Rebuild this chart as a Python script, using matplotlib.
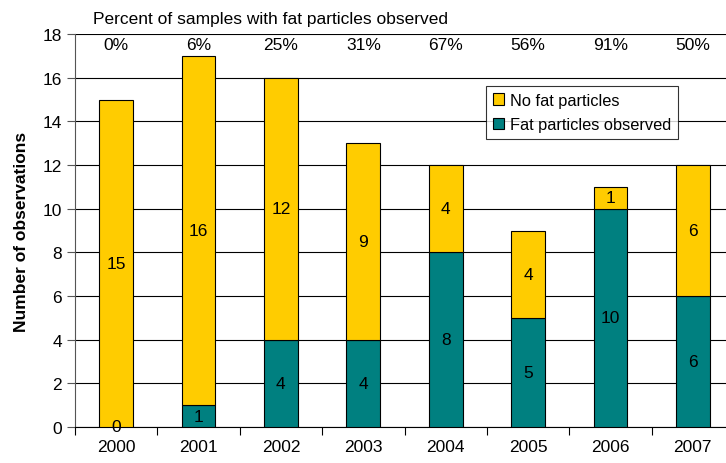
import numpy as np
import matplotlib.pyplot as plt

years = ['2000', '2001', '2002', '2003', '2004', '2005', '2006', '2007']
fat_observed = [0, 1, 4, 4, 8, 5, 10, 6]
no_fat = [15, 16, 12, 9, 4, 4, 1, 6]
percent_labels = ['0%', '6%', '25%', '31%', '67%', '56%', '91%', '50%']

plt.rcParams['font.family'] = ['Liberation Sans', 'DejaVu Sans']
fs = 12.5

fig = plt.figure(figsize=(7.26, 4.64), dpi=100)
W, H = 726, 464
left, right, top, bottom = 75, 734, 35, 428
ax = fig.add_axes([left / W, 1 - bottom / H, (right - left) / W, (bottom - top) / H])

x = np.arange(len(years))
width = 0.41
teal = '#008080'
yellow = '#FFCC00'

b1 = ax.bar(x, fat_observed, width=width, color=teal, edgecolor='black',
            linewidth=0.8, label='Fat particles observed', zorder=3)
b2 = ax.bar(x, no_fat, width=width, bottom=fat_observed, color=yellow,
            edgecolor='black', linewidth=0.8, label='No fat particles', zorder=3)

for i in range(len(years)):
    ax.text(x[i], fat_observed[i] / 2, str(fat_observed[i]), ha='center',
            va='center', fontsize=fs, zorder=4)
    ax.text(x[i], fat_observed[i] + no_fat[i] / 2, str(no_fat[i]), ha='center',
            va='center', fontsize=fs, zorder=4)
    ax.text(x[i], 17.5, percent_labels[i], ha='center', va='center',
            fontsize=fs, zorder=4)

ax.text(0.297, 1.04, 'Percent of samples with fat particles observed',
        transform=ax.transAxes, ha='center', va='center', fontsize=fs)

ax.set_xlim(-0.5, len(years) - 0.5)
ax.set_ylim(0, 18)
ax.set_yticks(np.arange(0, 19, 2))
ax.set_xticks(x)
ax.set_xticklabels(years, fontsize=fs)
ax.set_xticks(np.arange(-0.5, len(years), 1), minor=True)
ax.tick_params(axis='x', which='major', length=0, pad=9)
ax.tick_params(axis='x', which='minor', length=6, direction='out', width=0.8)
ax.tick_params(axis='y', labelsize=fs, length=6, direction='out', width=0.8, color='#555555')
ax.yaxis.grid(True, color='black', linewidth=0.8, zorder=0)

for s in ['top', 'right']:
    ax.spines[s].set_visible(False)
ax.spines['left'].set_color('#555555')
ax.spines['bottom'].set_color('black')

ax.set_ylabel('Number of observations', fontsize=fs, fontweight='bold', labelpad=10)

leg = ax.legend(handles=[b2, b1], loc='upper left',
                bbox_to_anchor=((486 - left) / (right - left), 1 - (87 - top) / (bottom - top)),
                borderaxespad=0, fontsize=11.8, frameon=True, fancybox=False,
                handlelength=0.7, handleheight=0.7, handletextpad=0.35,
                borderpad=0.4, labelspacing=0.6)
leg.get_frame().set_edgecolor('black')
leg.get_frame().set_linewidth(0.8)
leg.set_zorder(5)

fig.savefig('out.png', dpi=100)
